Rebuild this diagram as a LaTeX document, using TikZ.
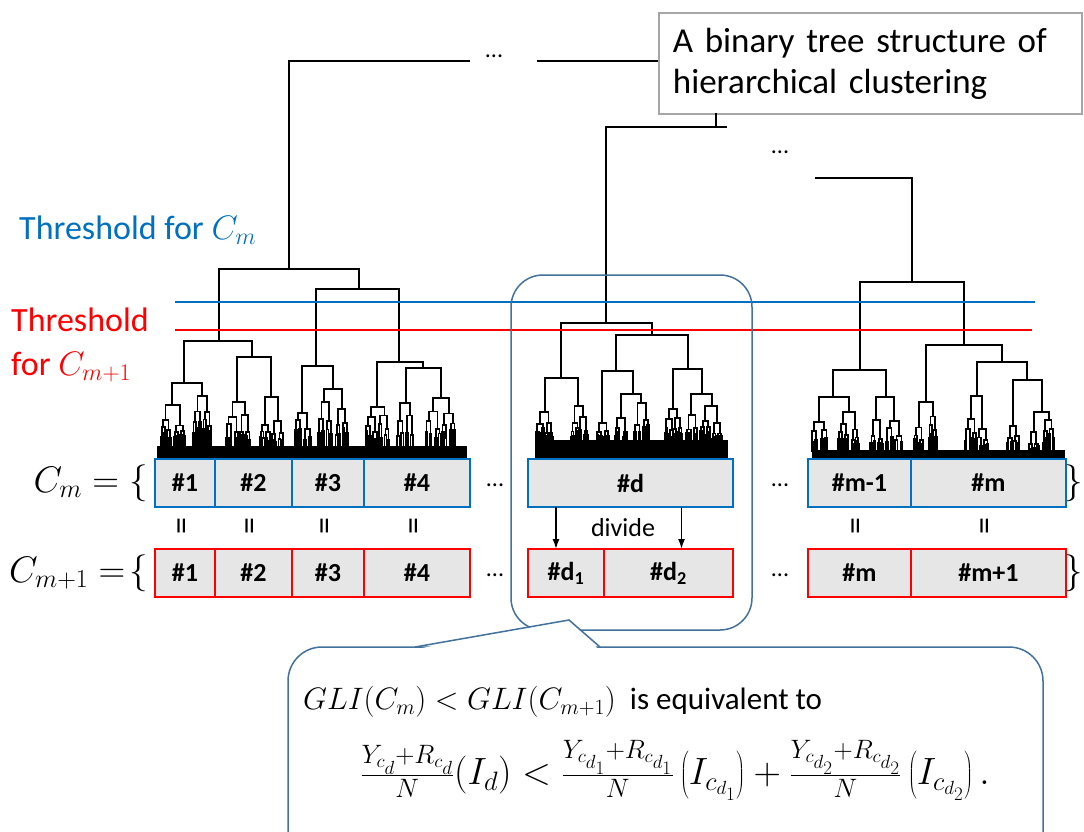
\RequirePackage{fix-cm}
\documentclass[tikz,border=0pt]{standalone}
\usepackage{fontspec}
\setmainfont{Carlito}
\usetikzlibrary{positioning}
\usetikzlibrary{arrows.meta}

\definecolor{cblue}{RGB}{0,112,192}
\definecolor{cred}{RGB}{255,0,0}
\definecolor{cellfill}{RGB}{230,230,230}
\definecolor{frameblue}{RGB}{65,113,156}

\newcommand{\fsz}[2]{\fontsize{#1}{#2}\selectfont}

% lower, dense part of a dendrogram: x, half width, top, depth
\newcommand{\subtree}[4]{%
  \ifnum#4>0\relax
    \begingroup
      \pgfmathsetmacro\sta{#1-#2*(0.35+0.3*rnd)}%
      \pgfmathsetmacro\stb{#1+#2*(0.35+0.3*rnd)}%
      \pgfmathsetmacro\sya{#3+(\leafy-#3)*(0.2+0.4*rnd)}%
      \pgfmathsetmacro\syb{#3+(\leafy-#3)*(0.2+0.4*rnd)}%
      \pgfmathsetmacro\shw{#2/2}%
      \pgfmathtruncatemacro\sdd{#4-1}%
      \draw[den] (\sta,\sya) |- (\stb,#3) -- (\stb,\syb);
      \edef\snext{\noexpand\subtree{\sta}{\shw}{\sya}{\sdd}\noexpand\subtree{\stb}{\shw}{\syb}{\sdd}}%
      \snext
    \endgroup
  \else
    \draw[den] (#1,#3) -- (#1,\leafy);
  \fi}

\begin{document}
\begin{tikzpicture}[
    x=1pt, y=-1pt,
    den/.style={line width=1.8pt, black},
    cell/.style={draw, fill=cellfill, line width=2.5pt, outer sep=0pt,
      minimum height=48pt, inner sep=0pt, font=\fsz{26}{30}\bfseries},
    bcell/.style={cell, draw=cblue},
    rcell/.style={cell, draw=cred},
    eqmark/.style={rotate=90, inner sep=0pt, font=\fsz{34}{38}},
    dots/.style={inner sep=0pt, font=\fsz{24}{28}},
    arr/.style={-{Latex[length=10pt,width=7pt]}, line width=1.5pt}
  ]
  \useasboundingbox (0,0) rectangle (1084,832);
  \clip (0,0) rectangle (1084,832);
  \pgfmathsetseed{11}

  % upper part of the tree
  \node[draw=black!35, fill=white, line width=1.8pt, anchor=north west,
    minimum width=423pt, minimum height=101pt, text width=395pt,
    inner xsep=14pt, align=left, font=\fsz{35}{41}] (title) at (658,12)
    {A binary tree structure of\\hierarchical clustering};
  \coordinate (rootend) at (537,61);
  \coordinate (tstem) at (716,113);
  \draw[den] (289,269) -- (289,61) -- (470,61);
  \node[dots] (topdots) at (494,56) {...};
  \draw[den] (rootend) -- (rootend -| title.west);
  \draw[den] (tstem) -- (716,127);
  \draw[den] (606,323) |- (727,127);
  \node[dots] (middots) at (780,152) {...};
  \draw[den] (815,178) -| (912,282);

  % left dendrogram
  \draw[den] (219,341) |- (359,269) -- (359,289);
  \draw[den] (184,383) |- (252,341) -- (252,357);
  \draw[den] (316,366) |- (399,289) -- (399,362);
  \draw[den] (172,405) |- (202,383) -- (202,396);
  \draw[den] (237,402) |- (271,357) -- (271,397);
  \draw[den] (302,413) |- (333,366) -- (333,389);
  \draw[den] (377,407) |- (423,362) -- (423,368);
  \draw[den] (406,403) |- (441,368) -- (441,398);
  \def\leafy{448}
  \subtree{172}{12}{405}{4}
  \subtree{202}{10}{396}{4}
  \subtree{237}{13}{402}{4}
  \subtree{271}{13}{397}{4}
  \subtree{302}{9}{413}{3}
  \subtree{333}{15}{389}{4}
  \subtree{377}{13}{407}{4}
  \subtree{406}{9}{403}{3}
  \subtree{441}{15}{398}{4}
  \fill (157,446) rectangle (467,458);

  % middle dendrogram
  \draw[den] (561,378) |- (652,323) -- (652,335);
  \draw[den] (545,412) |- (578,378) -- (578,406);
  \draw[den] (616,371) |- (688,335) -- (688,369);
  \draw[den] (602,423) |- (633,371) -- (633,394);
  \draw[den] (621,418) |- (641,394) -- (641,403);
  \draw[den] (673,409) |- (702,369) -- (702,394);
  \draw[den] (691,415) |- (712,394) -- (712,406);
  \def\leafy{442}
  \subtree{545}{9}{412}{4}
  \subtree{578}{10}{406}{4}
  \subtree{602}{7}{423}{3}
  \subtree{621}{7}{418}{3}
  \subtree{641}{8}{403}{3}
  \subtree{673}{10}{409}{4}
  \subtree{691}{7}{415}{3}
  \subtree{712}{11}{406}{4}
  \fill (535,440) rectangle (728,458);

  % right dendrogram
  \draw[den] (860,370) |- (964,282) -- (964,345);
  \draw[den] (833,397) |- (886,370) -- (886,397);
  \draw[den] (819,422) |- (849,397) -- (849,412);
  \draw[den] (876,420) |- (894,397) -- (894,421);
  \draw[den] (926,402) |- (1002,345) -- (1002,362);
  \draw[den] (977,396) |- (1027,362) -- (1027,380);
  \draw[den] (1013,426) |- (1042,380) -- (1042,412);
  \def\leafy{452}
  \subtree{819}{8}{422}{3}
  \subtree{849}{11}{412}{4}
  \subtree{876}{7}{420}{3}
  \subtree{894}{8}{421}{3}
  \subtree{926}{12}{402}{4}
  \subtree{977}{14}{396}{4}
  \subtree{1013}{8}{426}{3}
  \subtree{1042}{13}{412}{4}
  \fill (812,450) rectangle (1065,458);

  % thresholds
  \draw[cblue, line width=2.2pt] (175,302) -- (1035,302);
  \draw[cred, line width=2.2pt] (175,330) -- (1032,330);
  \node[anchor=west, text=cblue, inner sep=0pt, font=\fsz{34}{40}] (thm) at (19,230)
    {Threshold for $C_m$};
  \node[anchor=west, text=cred, inner sep=0pt, align=left, font=\fsz{34}{44}] (thm1) at (11,345)
    {Threshold\\for $C_{m+1}$};

  % frame round the divided cluster
  \draw[frameblue, line width=1.5pt, rounded corners=32pt] (511,275) rectangle (752,630);

  % C_m row
  \node[bcell, minimum width=60pt, anchor=north west] (b1) at (155,459) {\#1};
  \node[bcell, minimum width=77pt, right=0pt of b1] (b2) {\#2};
  \node[bcell, minimum width=72pt, right=0pt of b2] (b3) {\#3};
  \node[bcell, minimum width=106pt, right=0pt of b3] (b4) {\#4};
  \node[bcell, minimum width=205pt, anchor=north west] (bd) at (528,459) {\#d};
  \node[bcell, minimum width=103pt, anchor=north west] (bm1) at (808,459) {\#m-1};
  \node[bcell, minimum width=155pt, right=0pt of bm1] (bm) {\#m};

  % C_{m+1} row
  \node[rcell, minimum width=60pt, anchor=north west] (r1) at (155,549) {\#1};
  \node[rcell, minimum width=77pt, right=0pt of r1] (r2) {\#2};
  \node[rcell, minimum width=72pt, right=0pt of r2] (r3) {\#3};
  \node[rcell, minimum width=106pt, right=0pt of r3] (r4) {\#4};
  \node[rcell, minimum width=76pt, anchor=north west] (rd1) at (528,549) {\#d\textsubscript{1}};
  \node[rcell, minimum width=129pt, right=0pt of rd1] (rd2) {\#d\textsubscript{2}};
  \node[rcell, minimum width=103pt, anchor=north west] (rm) at (808,549) {\#m};
  \node[rcell, minimum width=155pt, right=0pt of rm] (rm1) {\#m+1};

  % set labels and braces
  \node[anchor=east, inner sep=0pt, font=\fsz{37}{40}] (cmlab) at (148,483) {$C_m = \big\{$};
  \node[anchor=east, inner sep=0pt, font=\fsz{37}{40}] (cm1lab) at (148,573) {$C_{m+1} =\!\big\{$};
  \node[anchor=east, inner sep=0pt, font=\fsz{37}{40}] (cmend) at (1083,483) {$\big\}$};
  \node[anchor=east, inner sep=0pt, font=\fsz{37}{40}] (cm1end) at (1083,573) {$\big\}$};

  \node[dots] at (495,485) {...};
  \node[dots] at (495,575) {...};
  \node[dots] at (780,485) {...};
  \node[dots] at (780,575) {...};

  % equal signs between the rows
  \coordinate (eqrow) at (0,526);
  \foreach \c in {b1,b2,b3,b4,bm1,bm}
    \node[eqmark] at (\c.south |- eqrow) {=};

  % division of #d
  \draw[arr] ([xshift=-10pt]rd1.north |- bd.south) -- ([xshift=-10pt]rd1.north);
  \draw[arr] ([xshift=13pt]rd2.north |- bd.south) -- ([xshift=13pt]rd2.north);
  \node[font=\fsz{26}{30}, inner sep=0pt] (divide) at (623,528) {divide};

  % callout with the condition
  \draw[frameblue, fill=white, line width=1.5pt, rounded corners=34pt] (288,647) rectangle (1043,870);
  \fill[white] (417,649) -- (569,620) -- (598,649) -- cycle;
  \draw[frameblue, line width=1.5pt] (415,647) -- (569,620) -- (600,647);
  \node[anchor=west, inner sep=0pt, font=\fsz{31}{36}] (gli) at (303,702)
    {$GLI(C_m) < GLI(C_{m+1})$\ \ is equivalent to};
  \node[inner sep=0pt, font=\fsz{38}{44}] (ineq) at (675,770)
    {$\frac{Y_{c_d}+R_{c_d}}{N}(I_d) < \frac{Y_{c_{d_1}}+R_{c_{d_1}}}{N}\left(I_{c_{d_1}}\right) + \frac{Y_{c_{d_2}}+R_{c_{d_2}}}{N}\left(I_{c_{d_2}}\right).$};
\end{tikzpicture}
\end{document}
